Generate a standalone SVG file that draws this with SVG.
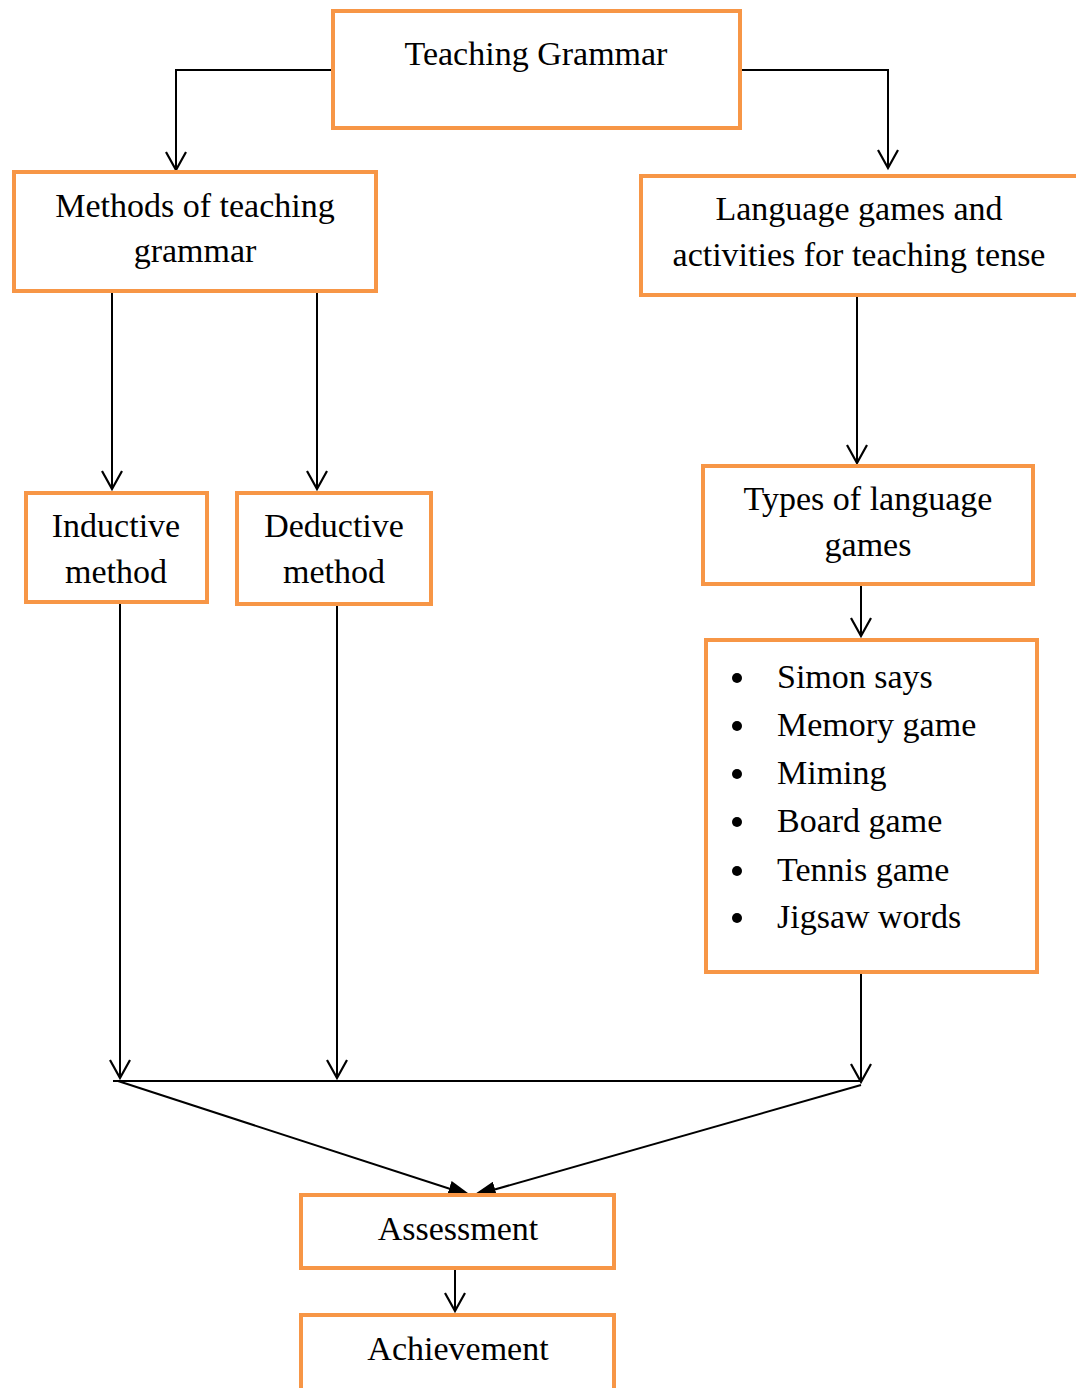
<svg xmlns="http://www.w3.org/2000/svg" width="1076" height="1388" viewBox="0 0 1076 1388">
<style>
.box{fill:#fff;stroke:#F79646;stroke-width:4}
.t{font-family:"Liberation Serif",serif;font-size:34px;fill:#000;text-anchor:middle}
.c{stroke:#000;stroke-width:2;fill:none}
</style>
<defs>
<marker id="open" markerWidth="24" markerHeight="24" refX="21" refY="12" orient="auto" markerUnits="userSpaceOnUse" viewBox="0 0 24 24">
<path d="M3,2 L21,12 L3,22" fill="none" stroke="#000" stroke-width="2.2"/>
</marker>
<marker id="fill" markerWidth="24" markerHeight="16" refX="24" refY="8" orient="auto" markerUnits="userSpaceOnUse" viewBox="0 0 24 16">
<path d="M0,0 L24,8 L0,16 Z" fill="#000"/>
</marker>
</defs>
<g id="connectors">
<path class="c" d="M333,70 H176 V170" marker-end="url(#open)"/>
<path class="c" d="M740,70 H888 V168" marker-end="url(#open)"/>
<path class="c" d="M112,291 V489" marker-end="url(#open)"/>
<path class="c" d="M317,291 V489" marker-end="url(#open)"/>
<path class="c" d="M857,295 V463" marker-end="url(#open)"/>
<path class="c" d="M861,584 V636" marker-end="url(#open)"/>
<path class="c" d="M120,602 V1078" marker-end="url(#open)"/>
<path class="c" d="M337,604 V1078" marker-end="url(#open)"/>
<path class="c" d="M861,972 V1082" marker-end="url(#open)"/>
<path class="c" d="M113,1081 H861"/>
<path class="c" d="M118,1081 L472,1196" stroke-width="2.5" marker-end="url(#fill)"/>
<path class="c" d="M861,1085 L472,1196" stroke-width="2.5" marker-end="url(#fill)"/>
<path class="c" d="M455,1268 V1311" marker-end="url(#open)"/>
</g>
<g id="teaching-grammar">
<rect class="box" x="333" y="11" width="407" height="117"/>
<text class="t" x="536" y="65">Teaching Grammar</text>
</g>
<g id="methods">
<rect class="box" x="14" y="172" width="362" height="119"/>
<text class="t" x="195" y="217">Methods of teaching</text>
<text class="t" x="195" y="262">grammar</text>
</g>
<g id="language-games">
<rect class="box" x="641" y="176" width="440" height="119"/>
<text class="t" x="859" y="220">Language games and</text>
<text class="t" x="859" y="266">activities for teaching tense</text>
</g>
<g id="inductive">
<rect class="box" x="26" y="493" width="181" height="109"/>
<text class="t" x="116" y="537">Inductive</text>
<text class="t" x="116" y="583">method</text>
</g>
<g id="deductive">
<rect class="box" x="237" y="493" width="194" height="111"/>
<text class="t" x="334" y="537">Deductive</text>
<text class="t" x="334" y="583">method</text>
</g>
<g id="types">
<rect class="box" x="703" y="466" width="330" height="118"/>
<text class="t" x="868" y="510">Types of language</text>
<text class="t" x="868" y="556">games</text>
</g>
<g id="games-list">
<rect class="box" x="706" y="640" width="331" height="332"/>
<g fill="#000">
<circle cx="737" cy="678" r="5"/>
<circle cx="737" cy="726" r="5"/>
<circle cx="737" cy="774" r="5"/>
<circle cx="737" cy="822" r="5"/>
<circle cx="737" cy="871" r="5"/>
<circle cx="737" cy="918" r="5"/>
</g>
<text class="t" style="text-anchor:start" x="777" y="688">Simon says</text>
<text class="t" style="text-anchor:start" x="777" y="736">Memory game</text>
<text class="t" style="text-anchor:start" x="777" y="784">Miming</text>
<text class="t" style="text-anchor:start" x="777" y="832">Board game</text>
<text class="t" style="text-anchor:start" x="777" y="881">Tennis game</text>
<text class="t" style="text-anchor:start" x="777" y="928">Jigsaw words</text>
</g>
<g id="assessment">
<rect class="box" x="301" y="1195" width="313" height="73"/>
<text class="t" x="458" y="1240">Assessment</text>
</g>
<g id="achievement">
<rect class="box" x="301" y="1315" width="313" height="100"/>
<text class="t" x="458" y="1360">Achievement</text>
</g>
</svg>
